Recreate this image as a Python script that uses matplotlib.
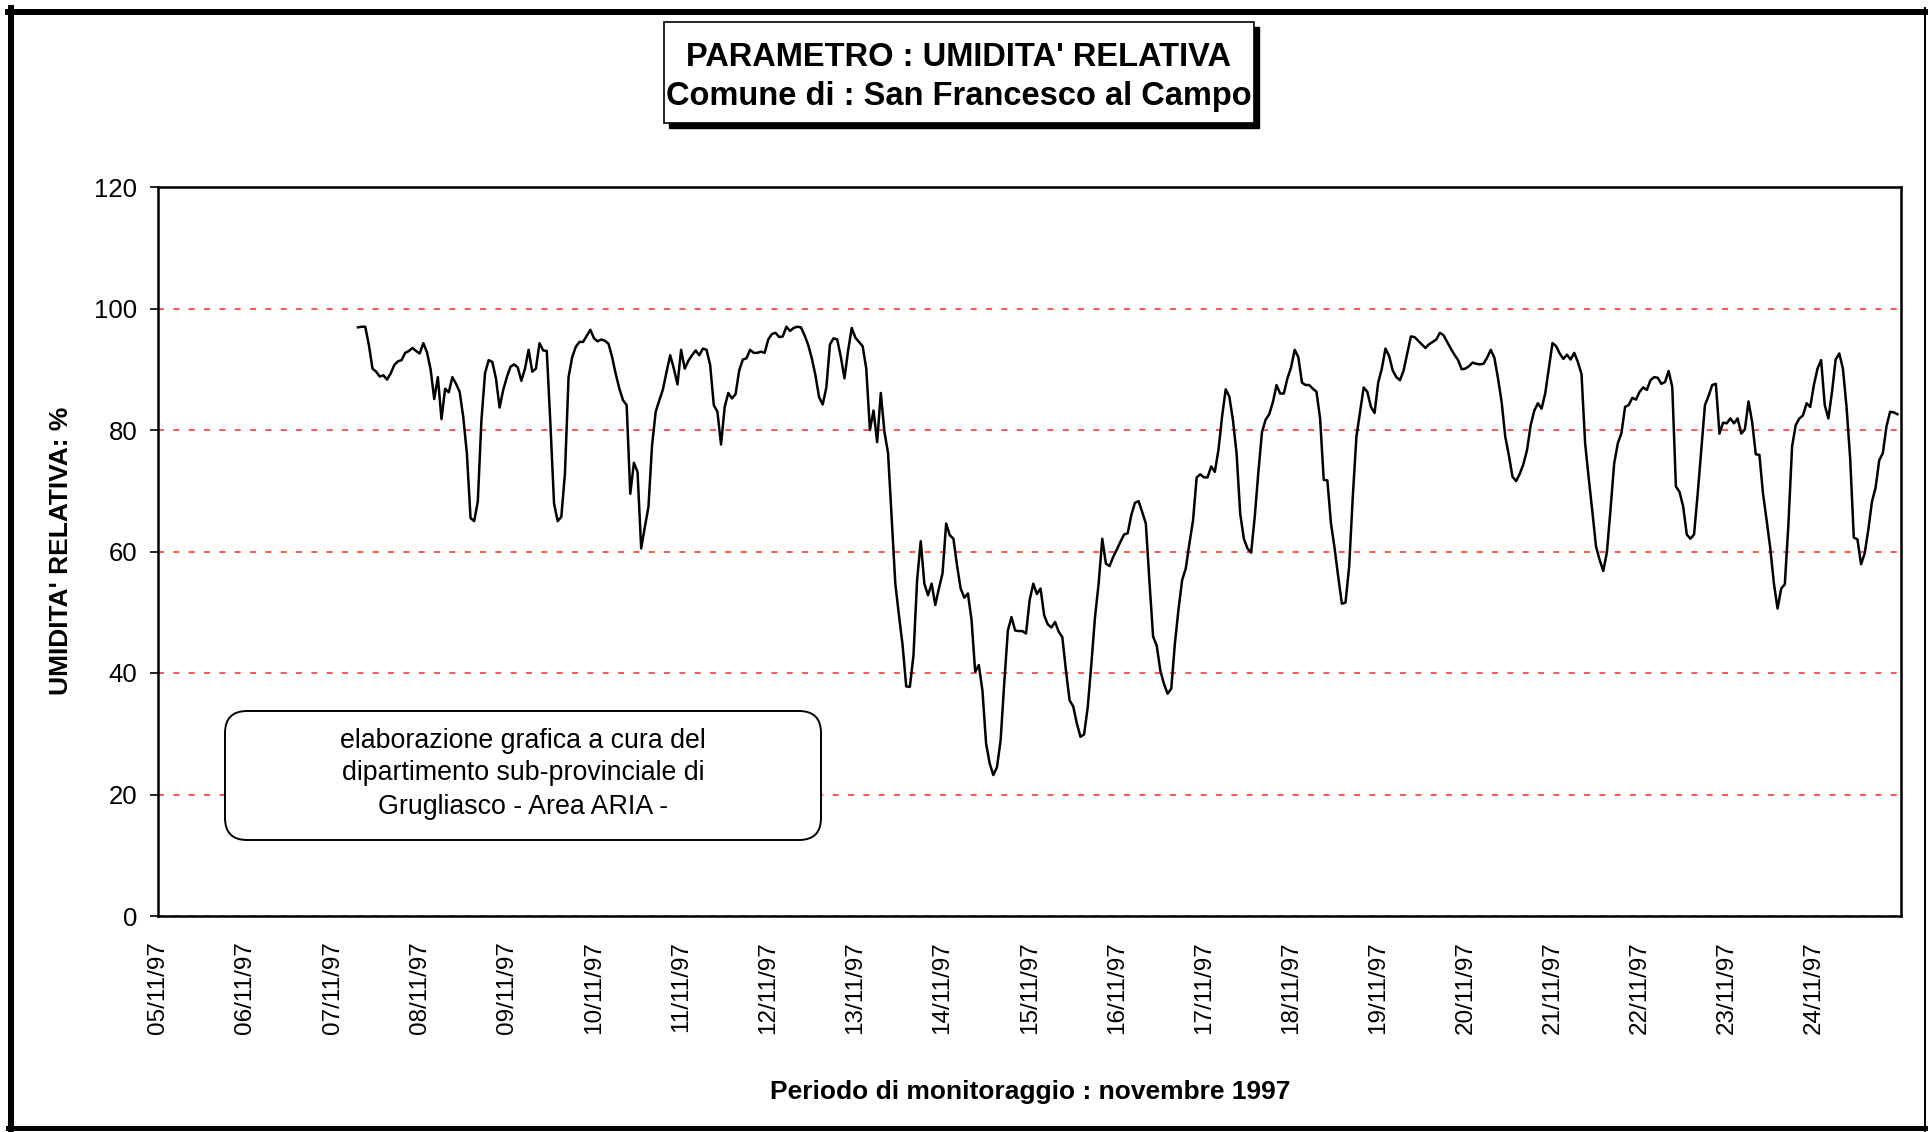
import matplotlib
matplotlib.use("Agg")
import matplotlib.pyplot as plt
from matplotlib.patches import Rectangle, FancyBboxPatch
from matplotlib.lines import Line2D
import numpy as np
import pandas as pd

plt.rcParams['font.family'] = ['Liberation Sans', 'DejaVu Sans']

# ---------------- data: hourly relative humidity (%) ----------------
start_time = "1997-11-07 07:00"
rh_07 = [96.9, 97.0, 97.0, 94.0, 90.1, 89.6, 88.8, 89.0, 88.3, 89.3, 90.7, 91.3,
         91.5, 92.7, 93.0, 93.5, 93.0]
rh_08 = [92.6, 94.3, 92.8, 90.0, 85.1, 88.7, 81.8, 86.8, 86.2, 88.7, 87.6, 86.3,
         82.1, 76.1, 65.5, 65.0, 68.2, 81.6, 89.4, 91.5, 91.2, 88.5, 83.7, 86.6]
rh_09 = [88.7, 90.4, 90.8, 90.3, 88.1, 90.1, 93.2, 89.6, 90.1, 94.3, 93.1, 93.0,
         81.0, 67.9, 65.0, 65.7, 72.8, 88.7, 92.0, 93.7, 94.5, 94.5, 95.5, 96.5]
rh_10 = [95.1, 94.6, 94.9, 94.7, 94.2, 92.0, 89.2, 86.8, 84.9, 84.1, 69.5, 74.6,
         73.1, 60.5, 64.0, 67.3, 77.5, 83.0, 84.9, 86.7, 89.6, 92.3, 90.1, 87.5]
rh_11 = [93.2, 90.1, 91.4, 92.3, 93.1, 92.3, 93.4, 93.2, 90.7, 84.1, 83.0, 77.6,
         83.8, 86.1, 85.2, 85.9, 89.8, 91.6, 91.8, 93.2, 92.7, 92.7, 92.9, 92.7]
rh_12 = [94.9, 95.8, 96.0, 95.3, 95.4, 97.0, 96.3, 96.8, 97.0, 96.9, 95.6, 94.0,
         91.8, 89.0, 85.4, 84.2, 87.0, 94.1, 95.1, 94.9, 92.0, 88.5, 93.1, 96.8]
rh_13 = [95.2, 94.5, 93.8, 90.1, 80.0, 83.2, 78.0, 86.1, 79.7, 76.2, 65.5, 54.7,
         49.5, 44.6, 37.8, 37.7, 42.9, 55.3, 61.7, 54.7, 52.8, 54.7, 51.2, 53.9]
rh_14 = [56.4, 64.6, 62.7, 62.1, 57.7, 53.9, 52.4, 53.1, 48.7, 40.2, 41.3, 37.1,
         28.4, 25.1, 23.2, 24.5, 28.9, 38.3, 47.0, 49.2, 47.0, 46.9, 46.9, 46.5]
rh_15 = [52.0, 54.7, 53.0, 53.9, 49.5, 48.0, 47.5, 48.4, 46.8, 45.9, 40.4, 35.5,
         34.5, 31.7, 29.5, 29.9, 34.4, 41.5, 49.2, 54.7, 62.1, 58.0, 57.6, 59.1]
rh_16 = [60.3, 61.6, 62.8, 63.0, 66.0, 68.0, 68.3, 66.5, 64.6, 55.0, 46.0, 44.5,
         40.4, 38.2, 36.6, 37.4, 44.8, 50.5, 55.3, 57.2, 61.3, 65.1, 72.2, 72.7]
rh_17 = [72.2, 72.2, 74.0, 73.1, 76.7, 82.2, 86.7, 85.5, 81.6, 76.1, 66.2, 62.1,
         60.5, 59.8, 65.7, 73.1, 79.7, 81.7, 82.6, 84.6, 87.4, 86.0, 86.0, 88.5]
rh_18 = [90.3, 93.2, 92.0, 87.8, 87.4, 87.4, 86.8, 86.3, 81.9, 71.8, 71.7, 64.6,
         60.5, 55.8, 51.4, 51.6, 57.5, 69.0, 78.9, 83.0, 87.0, 86.3, 83.8, 82.8]
rh_19 = [87.8, 90.1, 93.4, 92.2, 89.8, 88.7, 88.2, 89.8, 92.6, 95.4, 95.3, 94.7,
         94.1, 93.5, 94.1, 94.5, 94.9, 96.0, 95.6, 94.5, 93.4, 92.4, 91.5, 90.0]
rh_20 = [90.1, 90.5, 91.1, 90.9, 90.8, 90.9, 91.9, 93.2, 91.9, 88.5, 84.6, 78.9,
         75.8, 72.3, 71.6, 72.8, 74.4, 76.7, 80.8, 83.2, 84.4, 83.5, 86.0, 90.1]
rh_21 = [94.3, 93.8, 92.6, 91.7, 92.4, 91.6, 92.7, 91.2, 89.2, 77.8, 72.0, 66.5,
         60.8, 58.6, 56.8, 59.9, 67.0, 74.5, 77.8, 79.5, 83.8, 84.1, 85.3, 85.0]
rh_22 = [86.3, 87.0, 86.6, 88.2, 88.7, 88.6, 87.6, 87.9, 89.7, 87.1, 70.7, 69.8,
         67.4, 62.8, 62.1, 62.8, 69.5, 76.9, 84.1, 85.6, 87.4, 87.6, 79.4, 81.2]
rh_23 = [81.1, 81.9, 81.1, 81.9, 79.4, 80.1, 84.7, 81.3, 76.0, 75.9, 69.5, 65.1,
         60.5, 54.7, 50.6, 53.9, 54.6, 64.6, 77.3, 80.8, 81.9, 82.4, 84.4, 83.8]
rh_24 = [87.4, 90.1, 91.5, 84.1, 81.9, 86.3, 91.6, 92.6, 90.1, 83.8, 75.3, 62.3,
         62.0, 57.9, 59.7, 63.6, 68.2, 70.5, 75.0, 76.2, 80.6, 83.0, 82.9, 82.6]

tick_dates = ["05/11/97", "06/11/97", "07/11/97", "08/11/97", "09/11/97", "10/11/97",
              "11/11/97", "12/11/97", "13/11/97", "14/11/97", "15/11/97", "16/11/97",
              "17/11/97", "18/11/97", "19/11/97", "20/11/97", "21/11/97", "22/11/97",
              "23/11/97", "24/11/97"]
y_ticks = [0, 20, 40, 60, 80, 100, 120]

title_lines = ["PARAMETRO : UMIDITA' RELATIVA", "Comune di : San Francesco al Campo"]
note_lines = ["elaborazione grafica a cura del", "dipartimento sub-provinciale di",
              "Grugliasco - Area ARIA -"]
x_label = "Periodo di monitoraggio : novembre 1997"
y_label = "UMIDITA' RELATIVA: %"

rh = (rh_07 + rh_08 + rh_09 + rh_10 + rh_11 + rh_12 + rh_13 + rh_14 + rh_15 + rh_16 +
      rh_17 + rh_18 + rh_19 + rh_20 + rh_21 + rh_22 + rh_23 + rh_24)
times = pd.date_range(start_time, periods=len(rh), freq="h").to_numpy()
tick_pos = pd.to_datetime(tick_dates, format="%d/%m/%y").to_numpy()

# ---------------- figure ----------------
W, H = 1928, 1132
fig = plt.figure(figsize=(W / 100, H / 100), dpi=100)
fig.patch.set_facecolor("white")


def fx(x):
    return x / W


def fy(y):
    return 1 - y / H


ax = fig.add_axes([fx(158.3), fy(916), fx(1901) - fx(158.3), fy(187) - fy(916)])
ax.plot(times, rh, color="black", lw=1.8, zorder=3)

ax.set_xlim(np.datetime64("1997-11-05T00:00"), np.datetime64("1997-11-25T00:00"))
ax.set_ylim(0, 120)
ax.set_yticks(y_ticks)
ax.set_yticklabels([str(v) for v in y_ticks], fontsize=18.5)
ax.set_xticks(tick_pos)
ax.set_xticklabels(tick_dates, rotation=90, fontsize=17.5)
ax.tick_params(axis="x", length=0, pad=18)
ax.tick_params(axis="y", direction="out", length=6, width=1.2, pad=9)

ax.yaxis.grid(True, color="#ff3a3a", lw=1.2, linestyle=(0, (3.6, 5.6)))
ax.xaxis.grid(False)
ax.set_axisbelow(True)
for s in ax.spines.values():
    s.set_linewidth(1.8)
    s.set_color("black")

# axis labels
fig.text(fx(1030), fy(1092), x_label, ha="center", va="center",
         fontsize=19, fontweight="bold")
fig.text(fx(61), fy(551), y_label, ha="center", va="center", rotation=90,
         fontsize=19, fontweight="bold")

# title box with shadow
tb_x0, tb_y0, tb_x1, tb_y1 = 664, 22, 1254, 123
fig.patches.append(Rectangle((fx(tb_x0 + 5), fy(tb_y1 + 5)), fx(tb_x1) - fx(tb_x0),
                             fy(tb_y0) - fy(tb_y1), transform=fig.transFigure,
                             facecolor="black", edgecolor="black", zorder=1))
fig.patches.append(Rectangle((fx(tb_x0), fy(tb_y1)), fx(tb_x1) - fx(tb_x0),
                             fy(tb_y0) - fy(tb_y1), transform=fig.transFigure,
                             facecolor="white", edgecolor="black", lw=1.2, zorder=2))
for line, yy in zip(title_lines, [57, 96]):
    fig.text(fx(959), fy(yy), line, ha="center", va="center", fontsize=23.5,
             fontweight="bold", zorder=3)

# note box (rounded)
nb_x0, nb_y0, nb_x1, nb_y1 = 225, 711, 821, 840
fig.patches.append(FancyBboxPatch((nb_x0 / 100, (H - nb_y1) / 100),
                                  (nb_x1 - nb_x0) / 100, (nb_y1 - nb_y0) / 100,
                                  boxstyle="round,pad=0,rounding_size=0.22",
                                  transform=fig.dpi_scale_trans,
                                  facecolor="white", edgecolor="black", lw=1.4, zorder=2))
for line, yy in zip(note_lines, [741, 773, 807]):
    fig.text(fx(523), fy(yy), line, ha="center", va="center", fontsize=19.3, zorder=3)

# outer frame
frame = [((8, 12), (1928, 12), 6), ((11, 8), (11, 1132), 6),
         ((8, 1128), (1928, 1128), 5), ((1925, 8), (1925, 1132), 2)]
for (x0, y0), (x1, y1), lw in frame:
    fig.add_artist(Line2D([fx(x0), fx(x1)], [fy(y0), fy(y1)], transform=fig.transFigure,
                          color="black", lw=lw * 0.72))

fig.savefig("out.png", dpi=100)
